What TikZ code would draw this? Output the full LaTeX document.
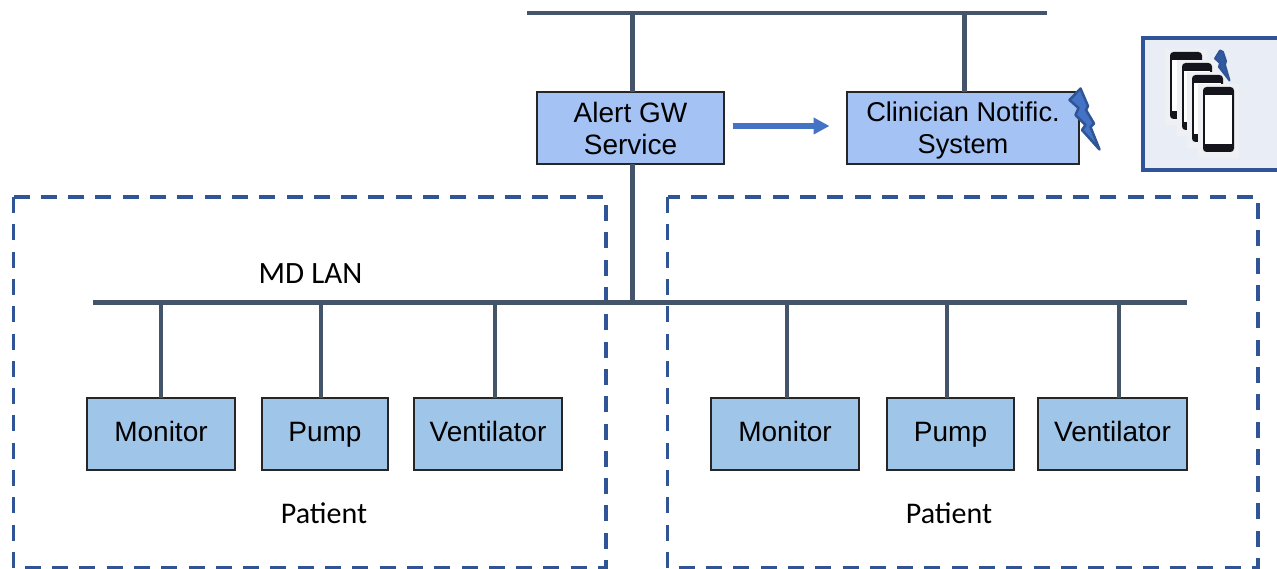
\documentclass[tikz,border=0pt]{standalone}
\usepackage{fontspec}
\setmainfont{Liberation Sans}
\newfontfamily\carl{Carlito}
\usetikzlibrary{arrows.meta}
\definecolor{busc}{HTML}{44546A}
\definecolor{dashc}{HTML}{2F5597}
\definecolor{arrc}{HTML}{4472C4}
\definecolor{topfill}{HTML}{A4C2F4}
\definecolor{devfill}{HTML}{9FC5E8}
\definecolor{panelc}{HTML}{E9EDF6}
\definecolor{haloc}{HTML}{EFF0F3}
\definecolor{phonec}{HTML}{14151C}
\tikzset{
  x=1pt,y=-1pt,
  bus/.style={draw=busc,line width=4.6pt},
  link/.style={draw=busc,line width=4.6pt},
  boxbase/.style={draw=black!85,line width=1.6pt,inner sep=0pt,outer sep=0pt,anchor=north west,align=center,
    font=\fontsize{28}{32}\selectfont},
  topbox/.style={boxbase,fill=topfill},
  devbox/.style={boxbase,fill=devfill,text height=20.5pt,text depth=6pt},
  zone/.style={draw=dashc,line width=3.6pt,dash pattern=on 16pt off 11.3pt},
  lbl/.style={inner sep=0pt,font=\fontsize{28}{32}\selectfont},
  plbl/.style={inner sep=0pt,font=\carl\fontsize{30}{32}\selectfont},
  flow/.style={draw=arrc,line width=5.5pt,-{Triangle[length=16pt,width=16pt]}},
  bolt/.style={draw=dashc,fill=arrc,line width=2.5pt,line join=round},
  smallbolt/.style={draw=dashc,fill=dashc!85!arrc,line width=2pt,line join=round},
}
\newcommand{\phone}[4]{% x0 y0 x1 y1
  \fill[haloc] (#1-5,#2-3) rectangle (#3+5,#4+6);
  \fill[phonec,rounded corners=3.5pt] (#1,#2) rectangle (#3,#4);
  \fill[white] (#1+1.6,#2+8) rectangle (#3-1.6,#4-7.5);
}
\begin{document}
\begin{tikzpicture}
\useasboundingbox (0,0) rectangle (1277,569);
% dashed patient zones
\draw[zone] (13.5,197) rectangle (606,568);
\draw[zone] (667.5,197) rectangle (1258,568);
% named bus ends
\coordinate (topL) at (527,13);
\coordinate (topR) at (1047,13);
\coordinate (lanL) at (93,302.5);
\coordinate (lanR) at (1187,302.5);
\draw[bus] (topL) -- (topR);
\draw[bus] (lanL) -- (lanR);
% boxes
\node[topbox,minimum width=187pt,minimum height=72pt] (alert) at (537,92) {Alert GW\\Service};
\node[topbox,minimum width=232pt,minimum height=72pt,text depth=1pt,font=\fontsize{27.2}{32}\selectfont] (clin) at (847,92) {Clinician Notific.\\System};
\node[devbox,minimum width=148pt,minimum height=72pt] (mon1) at (87,398) {Monitor};
\node[devbox,minimum width=126pt,minimum height=72pt] (pump1) at (262,398) {Pump};
\node[devbox,minimum width=148pt,minimum height=72pt] (vent1) at (414,398) {Ventilator};
\node[devbox,minimum width=148pt,minimum height=72pt] (mon2) at (711,398) {Monitor};
\node[devbox,minimum width=127pt,minimum height=72pt] (pump2) at (887,398) {Pump};
\node[devbox,minimum width=149pt,minimum height=72pt] (vent2) at (1038,398) {Ventilator};
% connectors
\coordinate (tapA) at (632.5,13);
\coordinate (tapC) at (964.5,13);
\coordinate (tapL) at (632.5,302.5);
\draw[link] (tapA) -- (tapA |- alert.north);
\draw[link] (tapC) -- (tapC |- clin.north);
\draw[link] (tapL) -- (tapL |- alert.south);
\foreach \nm/\xx in {mon1/161,pump1/321,vent1/495,mon2/787,pump2/947,vent2/1119}{
  \coordinate (drop) at (\xx,302.5);
  \draw[link] (drop) -- (drop |- \nm.north);
}
\coordinate (fa) at (732.5,126);
\coordinate (fb) at (829.5,126);
\draw[flow] (fa) -- (fb);
% labels
\node[lbl] (lan) at (310.5,273.5) {\carl\fontsize{31}{32}\selectfont MD LAN};
\node[plbl] (pat1) at (324,513.5) {Patient};
\node[plbl] (pat2) at (949,513.5) {Patient};
% big bolt
\path[bolt] (1080.5,88.5) -- (1069.5,100) -- (1078.5,108) -- (1075.5,115) -- (1085.5,125) -- (1082,130)
  -- (1099.5,149.5) -- (1090.5,127) -- (1094,123.5) -- (1086,110) -- (1088,106) -- cycle;
% phones panel
\draw[draw=dashc,fill=panelc,line width=4pt] (1142.5,38) rectangle (1285,170);
\begin{scope}
\clip (1144.5,40) rectangle (1277,168);
\phone{1170}{52}{1202}{119}
\phone{1182}{63}{1212}{130}
\phone{1192}{75}{1223}{142}
\phone{1203}{87}{1234}{152}
\end{scope}
\path[smallbolt] (1220,50.5) -- (1215,58.5) -- (1220,63) -- (1219,67) -- (1229.5,80.5) -- (1225,65) -- (1226,61) -- (1223,52) -- cycle;
\end{tikzpicture}
\end{document}
